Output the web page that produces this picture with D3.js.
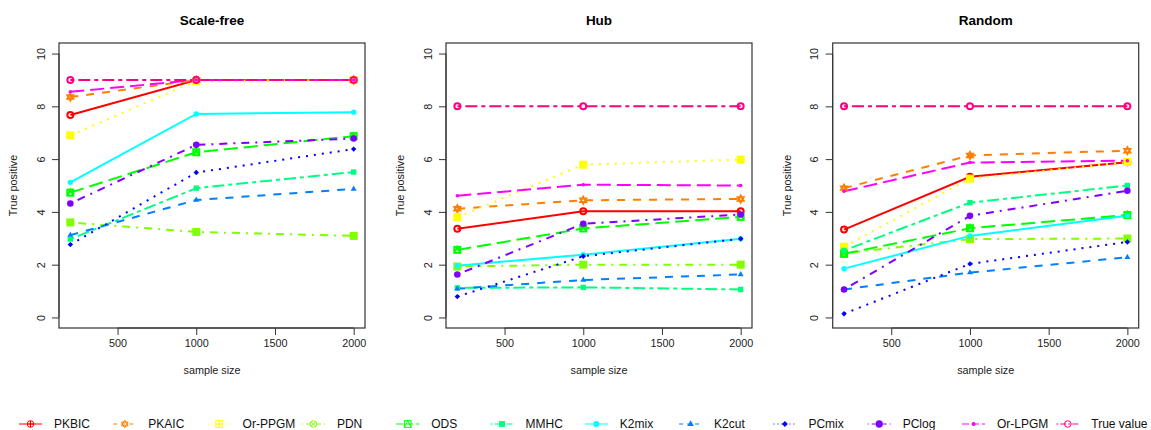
<!DOCTYPE html>
<html><head><meta charset="utf-8">
<script src="https://cdn.jsdelivr.net/npm/d3@7"></script>
<style>
body{margin:0;background:#fff;}
svg{display:block;font-family:"Liberation Sans",Arial,Helvetica,sans-serif;}
</style></head>
<body><svg id="chart" width="1151" height="430"></svg>
<script>
// ---- data ----
const sampleSizes = [200, 1000, 2000];
const panels = ["Scale-free", "Hub", "Random"];
const methods = ["PKBIC","PKAIC","Or-PPGM","PDN","ODS","MMHC","K2mix","K2cut","PCmix","PClog","Or-LPGM","True value"];
const xTicks = [500, 1000, 1500, 2000];
const yTicks = [0, 2, 4, 6, 8, 10];

// values per method: [Scale-free, Hub, Random], each at sample sizes 200, 1000, 2000
const PKBIC   = [[7.67, 9.0, 9.0], [3.36, 4.02, 4.02], [3.33, 5.33, 5.88]];
const PKAIC   = [[8.35, 9.0, 9.0], [4.12, 4.44, 4.49], [4.90, 6.14, 6.32]];
const OrPPGM  = [[6.90, 8.96, 9.0], [3.80, 5.79, 5.98], [2.68, 5.26, 5.89]];
const PDN     = [[3.60, 3.24, 3.09], [1.93, 2.00, 2.00], [2.43, 2.97, 2.99]];
const ODS     = [[4.73, 6.26, 6.87], [2.56, 3.37, 3.81], [2.41, 3.38, 3.88]];
const MMHC    = [[2.97, 4.90, 5.51], [1.12, 1.14, 1.06], [2.54, 4.35, 5.00]];
const K2mix   = [[5.12, 7.71, 7.78], [1.96, 2.38, 2.98], [1.85, 3.09, 3.85]];
const K2cut   = [[3.12, 4.45, 4.87], [1.09, 1.42, 1.63], [1.06, 1.70, 2.28]];
const PCmix   = [[2.76, 5.49, 6.38], [0.79, 2.32, 2.98], [0.14, 2.03, 2.86]];
const PClog   = [[4.32, 6.54, 6.78], [1.63, 3.55, 3.90], [1.06, 3.85, 4.80]];
const OrLPGM  = [[8.55, 9.0, 9.0], [4.61, 5.03, 5.00], [4.78, 5.87, 5.94]];
const TrueVal = [[9.0, 9.0, 9.0], [8.0, 8.0, 8.0], [8.0, 8.0, 8.0]];
const seriesValues = [PKBIC, PKAIC, OrPPGM, PDN, ODS, MMHC, K2mix, K2cut, PCmix, PClog, OrLPGM, TrueVal];

// ---- styles ----
const colors = ["#FF0000","#FF8000","#FFFF00","#80FF00","#00FF00","#00FF80","#00FFFF","#0080FF","#0000FF","#8000FF","#FF00FF","#FF0080"];
const ltyNames = ["solid","dashed","dotted","dotdash","longdash","twodash"];
const ltyBase = {solid:null, dashed:[4,4], dotted:[1,3], dotdash:[1,3,4,3], longdash:[7,3], twodash:[2,2,6,2]};
function dash(i, lw){ const b = ltyBase[ltyNames[i % 6]]; return b ? b.map(v=>v*lw).join(",") : null; }
const pchs = ["circplus","hexagram","sqplus","circx","sqtri","sqfill","circfill","trifill","diamond","circbig","dot","circopen"];

const svg = d3.select("#chart");
const panelLeft = [59, 446, 832.7];
const pw = 306, plotTop = 43, plotBottom = 328;

function drawSymbol(g, type, x, y, col, sw, s){
  const h = s;
  switch(type){
    case "circplus":
      g.append("circle").attr("cx",x).attr("cy",y).attr("r",h).attr("fill","none").attr("stroke",col).attr("stroke-width",sw);
      g.append("path").attr("d",`M${x-h},${y}H${x+h}M${x},${y-h}V${y+h}`).attr("stroke",col).attr("stroke-width",sw);
      break;
    case "hexagram": {
      const r = h*1.15;
      const t1 = d3.range(3).map(k=>{const a=-Math.PI/2+k*2*Math.PI/3;return [x+r*Math.cos(a),y+r*Math.sin(a)];});
      const t2 = d3.range(3).map(k=>{const a=Math.PI/2+k*2*Math.PI/3;return [x+r*Math.cos(a),y+r*Math.sin(a)];});
      g.append("path").attr("d","M"+t1.join("L")+"Z M"+t2.join("L")+"Z").attr("fill","none").attr("stroke",col).attr("stroke-width",sw);
      break; }
    case "sqplus":
      g.append("rect").attr("x",x-h).attr("y",y-h).attr("width",2*h).attr("height",2*h).attr("fill",sw>1.5?col:"none").attr("stroke",col).attr("stroke-width",sw);
      g.append("path").attr("d",`M${x-h},${y}H${x+h}M${x},${y-h}V${y+h}`).attr("stroke",col).attr("stroke-width",sw);
      break;
    case "circx": {
      if (sw > 1.5) {
        g.append("rect").attr("x",x-h).attr("y",y-h).attr("width",2*h).attr("height",2*h).attr("fill",col).attr("stroke",col).attr("stroke-width",sw);
      } else {
        const d = h*0.72;
        g.append("circle").attr("cx",x).attr("cy",y).attr("r",h).attr("fill","none").attr("stroke",col).attr("stroke-width",sw);
        g.append("path").attr("d",`M${x-d},${y-d}L${x+d},${y+d}M${x-d},${y+d}L${x+d},${y-d}`).attr("stroke",col).attr("stroke-width",sw);
      }
      break; }
    case "sqtri":
      g.append("rect").attr("x",x-h).attr("y",y-h).attr("width",2*h).attr("height",2*h).attr("fill","none").attr("stroke",col).attr("stroke-width",sw);
      g.append("path").attr("d",`M${x-h},${y+h}L${x},${y-h}L${x+h},${y+h}`).attr("fill","none").attr("stroke",col).attr("stroke-width",sw);
      break;
    case "sqfill":
      g.append("rect").attr("x",x-h*0.9).attr("y",y-h*0.9).attr("width",1.8*h).attr("height",1.8*h).attr("fill",col);
      break;
    case "circfill":
      g.append("circle").attr("cx",x).attr("cy",y).attr("r",h*0.9).attr("fill",col);
      break;
    case "trifill": {
      const r = h*1.15;
      g.append("path").attr("d",`M${x},${y-r}L${x+r*0.87},${y+r*0.5}L${x-r*0.87},${y+r*0.5}Z`).attr("fill",col);
      break; }
    case "diamond": {
      const r = h*0.9;
      g.append("path").attr("d",`M${x},${y-r}L${x+r},${y}L${x},${y+r}L${x-r},${y}Z`).attr("fill",col);
      break; }
    case "circbig":
      g.append("circle").attr("cx",x).attr("cy",y).attr("r",h*1.1).attr("fill",col);
      break;
    case "dot":
      g.append("circle").attr("cx",x).attr("cy",y).attr("r",h*0.6).attr("fill",col);
      break;
    case "circopen":
      g.append("circle").attr("cx",x).attr("cy",y).attr("r",h).attr("fill","none").attr("stroke",col).attr("stroke-width",sw);
      break;
  }
}

panels.forEach((title, p) => {
  const L = panelLeft[p];
  const x = d3.scaleLinear().domain([128, 2072]).range([L, L + pw]);
  const y = d3.scaleLinear().domain([-0.4, 10.4]).range([plotBottom, plotTop]);
  const g = svg.append("g");

  g.append("text").attr("x", L + pw/2).attr("y", 25).attr("text-anchor","middle")
    .attr("font-weight","bold").attr("font-size", 13.5).attr("fill","#000").text(title);

  const xa = g.append("g").attr("transform",`translate(0,${plotBottom})`)
    .call(d3.axisBottom(x).tickValues(xTicks).tickSize(7).tickPadding(4).tickFormat(d3.format("d")));
  xa.select(".domain").attr("d", `M${x(500)},0H${x(2000)}`).attr("stroke","#333");
  xa.selectAll("text").attr("font-size",10.8).attr("font-family","Liberation Sans, Arial, sans-serif").attr("fill","#222");
  xa.selectAll("line").attr("stroke","#333");

  const ya = g.append("g").attr("transform",`translate(${L},0)`)
    .call(d3.axisLeft(y).tickValues(yTicks).tickSize(7).tickFormat(d3.format("d")));
  ya.select(".domain").attr("d", `M0,${y(0)}V${y(10)}`).attr("stroke","#333");
  ya.selectAll("line").attr("stroke","#333");
  ya.selectAll("text").attr("font-size",10.8).attr("font-family","Liberation Sans, Arial, sans-serif").attr("fill","#222")
    .attr("text-anchor","middle").attr("x",null)
    .attr("transform", "translate(-18,0) rotate(-90)").attr("dy","0.35em");

  g.append("rect").attr("x", L).attr("y", plotTop).attr("width", pw).attr("height", plotBottom - plotTop)
    .attr("fill","none").attr("stroke","#333").attr("stroke-width",1.2);

  g.append("text").attr("x", L + pw/2).attr("y", 374).attr("text-anchor","middle")
    .attr("font-size",10.8).attr("fill","#222").text("sample size");
  g.append("text").attr("transform",`translate(${L-42},${(plotTop+plotBottom)/2}) rotate(-90)`).attr("text-anchor","middle")
    .attr("font-size",10.8).attr("fill","#222").text("True positive");

  const line = d3.line().x((d,i)=>x(sampleSizes[i])).y(d=>y(d));
  const sg = g.append("g");
  methods.forEach((m, k) => {
    sg.append("path").attr("d", line(seriesValues[k][p])).attr("fill","none")
      .attr("stroke", colors[k]).attr("stroke-width", 2)
      .attr("stroke-dasharray", dash(k, 2));
  });
  methods.forEach((m, k) => {
    seriesValues[k][p].forEach((v,i) => drawSymbol(sg, pchs[k] === "circplus" ? "circopen" : pchs[k], x(sampleSizes[i]), y(v), colors[k], 2, 3));
  });
});

// legend
const lg = svg.append("g");
const legY = 424;
methods.forEach((m, k) => {
  const x0 = 19 + 94.3 * k;
  lg.append("line").attr("x1", x0).attr("x2", x0 + 23).attr("y1", legY).attr("y2", legY)
    .attr("stroke", colors[k]).attr("stroke-width", 1).attr("stroke-dasharray", dash(k, 1));
  drawSymbol(lg, pchs[k], x0 + 11.5, legY, colors[k], 1, 3.3);
  lg.append("text").attr("x", x0 + 35).attr("y", legY).attr("dy","0.35em")
    .attr("font-size", 12).attr("fill","#111").text(m);
});
</script></body></html>
